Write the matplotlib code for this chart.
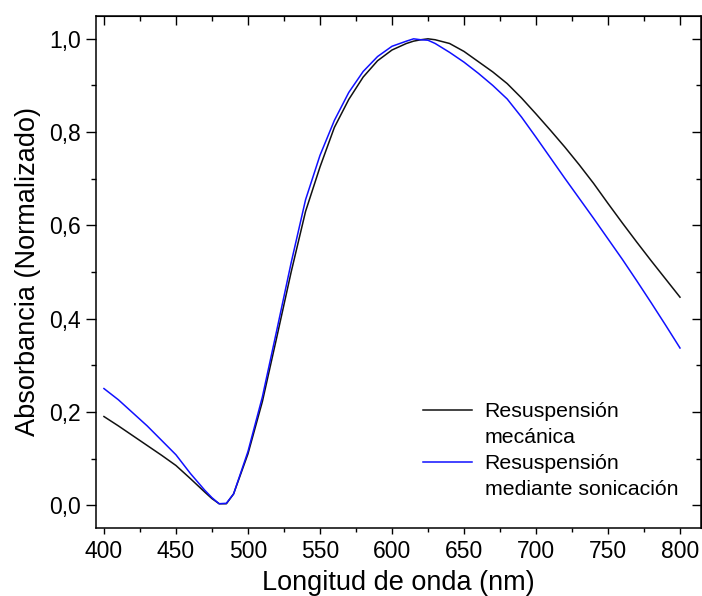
"""UV-Vis absorbance spectra: mechanical vs. sonication resuspension."""

import matplotlib

matplotlib.use("Agg")
import matplotlib.pyplot as plt
from matplotlib.lines import Line2D
from matplotlib.ticker import FuncFormatter, MultipleLocator

plt.rcParams["font.family"] = ["Liberation Sans", "DejaVu Sans"]

# wavelength (nm)
wavelength = [
    400, 410, 420, 430, 440, 450, 460, 470, 475, 480, 485, 490, 500,
    510, 520, 530, 540, 550, 560, 570, 580, 590, 600, 610, 615, 620,
    625, 630, 640, 650, 660, 670, 680, 690, 700, 710, 720, 730, 740,
    750, 760, 770, 780, 790, 800,
]

# normalized absorbance, mechanical resuspension
abs_mecanica = [
    0.190, 0.170, 0.149, 0.128, 0.107, 0.085, 0.057, 0.028, 0.014, 0.003,
    0.003, 0.024, 0.110, 0.222, 0.360, 0.500, 0.630, 0.725, 0.810, 0.870,
    0.918, 0.953, 0.976, 0.990, 0.995, 0.998, 1.000, 0.998, 0.990, 0.973,
    0.951, 0.929, 0.904, 0.873, 0.839, 0.804, 0.768, 0.730, 0.690, 0.647,
    0.605, 0.564, 0.524, 0.485, 0.446,
]

# normalized absorbance, sonication resuspension
abs_sonicacion = [
    0.250, 0.226, 0.198, 0.170, 0.139, 0.108, 0.068, 0.032, 0.016, 0.003,
    0.004, 0.024, 0.115, 0.232, 0.375, 0.520, 0.655, 0.750, 0.825, 0.885,
    0.930, 0.962, 0.984, 0.995, 1.000, 0.998, 0.997, 0.990, 0.971, 0.950,
    0.926, 0.900, 0.871, 0.832, 0.789, 0.745, 0.701, 0.658, 0.615, 0.571,
    0.527, 0.481, 0.434, 0.386, 0.337,
]


def comma_fmt(decimals):
    return FuncFormatter(lambda v, _: f"{v:.{decimals}f}".replace(".", ","))


fig = plt.figure(figsize=(7.02, 5.96), dpi=100)
ax = fig.add_axes([0.1368, 0.1141, 0.8618, 0.8591])

ax.plot(wavelength, abs_mecanica, color="#111111", lw=1.1)
ax.plot(wavelength, abs_sonicacion, color="#1010ff", lw=1.1)

ax.set_xlim(394.5, 814.6)
ax.set_ylim(-0.049, 1.049)

ax.xaxis.set_major_locator(MultipleLocator(50))
ax.xaxis.set_minor_locator(MultipleLocator(25))
ax.yaxis.set_major_locator(MultipleLocator(0.2))
ax.yaxis.set_minor_locator(MultipleLocator(0.1))
ax.yaxis.set_major_formatter(comma_fmt(1))

ax.tick_params(axis="x", which="major", direction="out", length=4.5, width=1.0,
               labelsize=16.5, pad=4)
ax.tick_params(axis="x", which="minor", direction="out", length=3, width=1.0)
ax.tick_params(axis="y", which="major", direction="out", length=7, width=1.0,
               labelsize=16.5, pad=4)
ax.tick_params(axis="y", which="minor", direction="out", length=3.5, width=1.0)

# inward ticks on the top and right spines, no labels
top = ax.secondary_xaxis("top")
top.xaxis.set_major_locator(MultipleLocator(50))
top.xaxis.set_minor_locator(MultipleLocator(25))
top.tick_params(which="major", direction="in", length=6.5, width=1.0,
                labeltop=False)
top.tick_params(which="minor", direction="in", length=3.5, width=1.0)
right = ax.secondary_yaxis("right")
right.yaxis.set_major_locator(MultipleLocator(0.2))
right.yaxis.set_minor_locator(MultipleLocator(0.1))
right.tick_params(which="major", direction="in", length=6.5, width=1.0,
                  labelright=False)
right.tick_params(which="minor", direction="in", length=3.5, width=1.0)

for spine in ax.spines.values():
    spine.set_linewidth(1.1)

ax.set_xlabel("Longitud de onda (nm)", fontsize=19.5, labelpad=5)
ax.set_ylabel("Absorbancia (Normalizado)", fontsize=19.5, labelpad=6)

blank = Line2D([], [], color="none")
handles = [
    Line2D([], [], color="#111111", lw=1.1),
    blank,
    Line2D([], [], color="#1010ff", lw=1.1),
    blank,
]
labels = ["Resuspensión", "mecánica", "Resuspensión", "mediante sonicación"]
ax.legend(
    handles,
    labels,
    loc="lower right",
    bbox_to_anchor=(0.962, 0.056),
    frameon=False,
    fontsize=15.3,
    handlelength=2.3,
    handletextpad=0.6,
    labelspacing=0.33,
    borderpad=0.0,
    borderaxespad=0.0,
)

fig.savefig("out.png", dpi=100)
